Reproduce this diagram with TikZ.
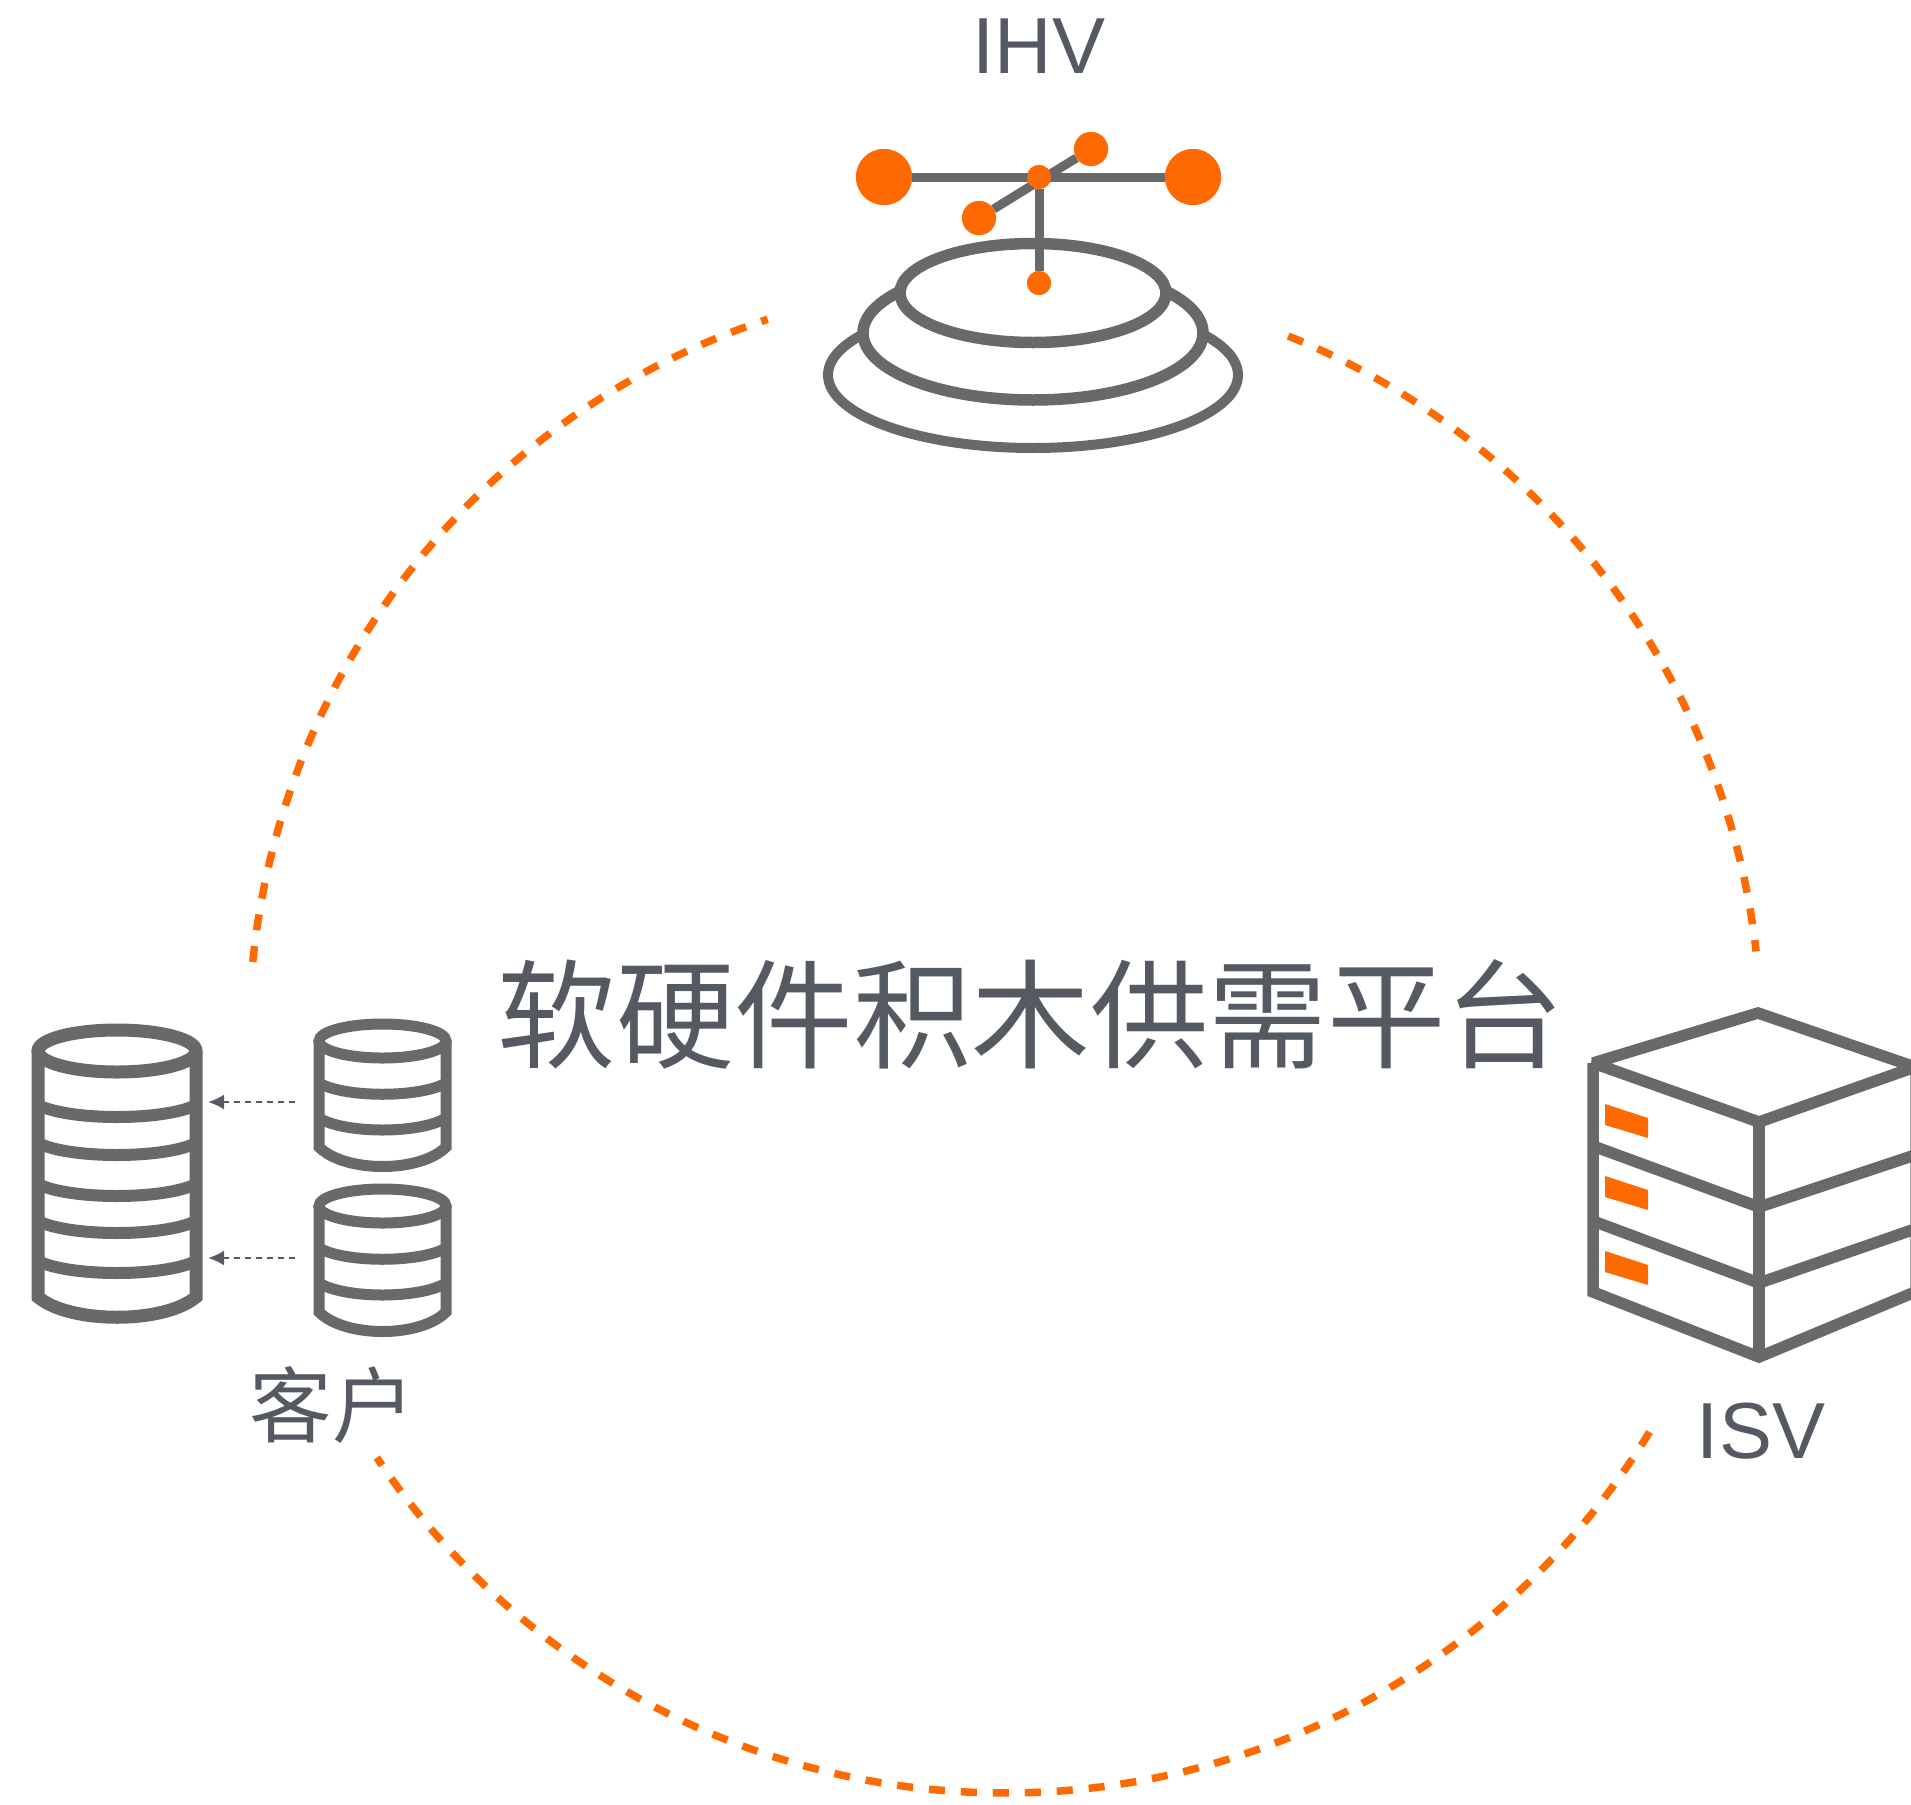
\documentclass[tikz,border=0pt]{standalone}
\usepackage{fontspec}
\setmainfont{Liberation Sans}
\newfontfamily\cjk{Noto Sans CJK SC}
\usetikzlibrary{arrows.meta}
\definecolor{icongray}{HTML}{696969}
\definecolor{txtgray}{HTML}{555A62}
\definecolor{accent}{HTML}{FF6A00}
\tikzset{
  iconline/.style={draw=icongray,line width=11.5pt,line join=miter,miter limit=1.6},
  thinline/.style={draw=icongray,line width=9pt},
  dot/.style={circle,fill=accent,inner sep=0pt,minimum size=#1},
  ring/.style={draw=icongray,line width=11.5pt,fill=white},
  ringarc/.style={dash pattern=on 16pt off 16pt,draw=accent,line width=7.5pt},
  flow/.style={draw=txtgray,line width=2.5pt,dash pattern=on 6pt off 5pt,-{Latex[length=16pt,width=15pt]}},
  latinlabel/.style={text=txtgray,font=\fontsize{79.5}{79.5}\selectfont,inner sep=0pt},
  cjklabel/.style={text=txtgray,font=\cjk\fontsize{82.5}{82.5}\selectfont,inner sep=0pt},
  titlelabel/.style={text=txtgray,font=\cjk\fontsize{118.5}{118.5}\selectfont,inner sep=0pt},
  wall/.style={draw=icongray,line width=13pt},
  smallwall/.style={draw=icongray,line width=11pt},
  tag/.style={fill=accent,draw=none}
}
\newcommand{\bigband}[2]{\draw[draw=icongray,line width=12pt] (38,#1) .. controls (70,#2) and (164,#2) .. (196,#1);}
\newcommand{\smallcyl}[1]{%
  \begin{scope}[yshift=#1]
  \draw[smallwall] (382.5,1041) ellipse [x radius=63.5,y radius=17];
  \draw[smallwall] (319,1041) -- (319,1147) .. controls (345,1173) and (420,1173) .. (446,1147) -- (446,1041);
  \draw[smallwall] (319,1083) .. controls (345,1098) and (420,1098) .. (446,1083);
  \draw[smallwall] (319,1118) .. controls (345,1134) and (420,1134) .. (446,1118);
  \end{scope}}
\begin{document}
\begin{tikzpicture}[x=1pt,y=-1pt]
\useasboundingbox (0,0) rectangle (1911,1804);
% dashed ring, centre (1005,1037), radius 756
\coordinate (rc) at (1005,1037);
\draw[ringarc] (rc) ++(185.7:756) arc [start angle=185.7,end angle=251.7,radius=756];
\draw[ringarc] (rc) ++(-68:756) arc [start angle=-68,end angle=-6.5,radius=756];
\draw[ringarc] (rc) ++(31.5:756) arc [start angle=31.5,end angle=146.2,radius=756];
% IHV icon
\draw[ring,line width=10pt] (1033,375) ellipse [x radius=205,y radius=73];
\draw[ring] (1033,333) ellipse [x radius=170,y radius=67];
\draw[ring] (1033,293) ellipse [x radius=133,y radius=49.5];
\node[dot=56pt] (hl) at (884,177) {};
\node[dot=56pt] (hr) at (1193,177) {};
\node[dot=24pt] (hc) at (1039,177) {};
\node[dot=34pt] (ur) at (1091,149) {};
\node[dot=34pt] (ll) at (979,218) {};
\node[dot=24pt] (hb) at (1039,283) {};
\draw[thinline] (hl) -- (hr);
\draw[thinline] (ll) -- (ur);
\draw[thinline] (hc) -- (hb);
\node[dot=56pt] at (884,177) {};
\node[dot=56pt] at (1193,177) {};
\node[dot=24pt] at (1039,177) {};
\node[dot=34pt] at (1091,149) {};
\node[dot=34pt] at (979,218) {};
\node[dot=24pt] at (1039,283) {};
% big cylinder
\draw[wall] (117,1051) ellipse [x radius=79,y radius=21];
\draw[wall] (38,1051) -- (38,1297) .. controls (70,1324) and (164,1324) .. (196,1297) -- (196,1051);
\bigband{1105}{1121}
\bigband{1143}{1159}
\bigband{1184}{1200}
\bigband{1221}{1237}
\bigband{1261}{1277}
% small cylinders
\smallcyl{0pt}
\smallcyl{-165pt}
% arrows
\coordinate (a1s) at (295,1102); \coordinate (a1e) at (208,1102);
\coordinate (a2s) at (295,1258); \coordinate (a2e) at (208,1258);
\draw[flow] (a1s) -- (a1e);
\draw[flow] (a2s) -- (a2e);
% server
\draw[draw=icongray!60,line width=2pt] (1911,1068) -- (1911,1293);
\draw[iconline] (1593,1063) -- (1758,1013) -- (1915,1067) -- (1759,1122) -- cycle;
\draw[iconline] (1593,1063) -- (1593,1292) -- (1759,1357) -- (1915,1292);
\draw[iconline] (1759,1122) -- (1759,1357);
\draw[iconline] (1593,1146) -- (1759,1207) -- (1915,1155);
\draw[iconline] (1593,1221) -- (1759,1283) -- (1915,1229);
\foreach \d in {0,72,147}{
  \fill[tag] (1605,1104+\d) -- (1648,1118+\d) -- (1648,1138+\d) -- (1605,1125+\d) -- cycle;
}
% labels
\node[latinlabel] (ihv) at (1039,46) {IHV};
\node[latinlabel] (isv) at (1761,1431) {ISV};
\node[cjklabel] (kehu) at (332,1405) {客户};
\node[titlelabel] (title) at (1031,1014) {软硬件积木供需平台};
\end{tikzpicture}
\end{document}
